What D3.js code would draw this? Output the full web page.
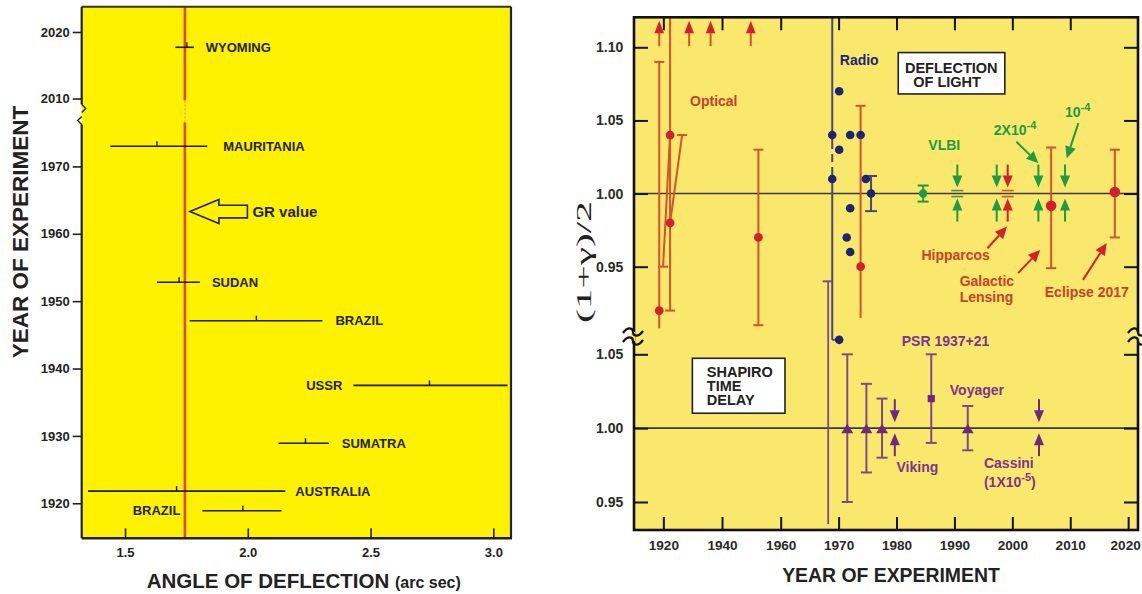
<!DOCTYPE html>
<html><head><meta charset="utf-8">
<script src="https://cdn.jsdelivr.net/npm/d3@7"></script>
<style>
body{margin:0;background:#fff;}
svg{display:block;font-family:"Liberation Sans",Arial,sans-serif;font-weight:bold;}
</style></head><body>
<svg id="c" width="1142" height="594"></svg>
<script>
// ================= LEFT PANEL DATA =================
const leftNames  = ["BRAZIL","AUSTRALIA","SUMATRA","USSR","BRAZIL","SUDAN","MAURITANIA","WYOMING"];
const leftYears  = [1918.9,1921.8,1928.9,1937.5,1947.1,1952.8,1973.0,2017.7];
const leftAngle  = [1.98,1.71,2.235,2.74,2.035,1.72,1.63,1.752];
const leftLow    = [1.815,1.349,2.125,2.43,1.763,1.63,1.44,1.705];
const leftHigh   = [2.137,2.153,2.33,3.058,2.304,1.805,1.835,1.78];
const leftLabelSide = ["left","right","right","left","right","right","right","right"];
const grValue = 1.75;
const grLabelYear = 1963.3;
const leftYTicks = [1920,1930,1940,1950,1960,1970,2010,2020];
const leftXTicks = [1.5,2.0,2.5,3.0];
const leftYDomain = [1914.8,1978.3,2008.2,2023.8];   // broken axis 1978-2008
const leftXDomain = [1.3235,3.072];

// ================= RIGHT PANEL DATA =================
const rightXDomain = [1910,1960,2021.7];             // two different year spacings
const rightXTicksBottom = [1920,1940,1960,1970,1980,1990,2000,2010,2020];
const rightXTicksTop = [1920,1940,1960,1970,1980,1990,2000,2010];
const deflYTicks = [0.95,1.00,1.05,1.10];
const shapYTicks = [0.95,1.00,1.05];
const deflDomain = [0.95,1.10];
const shapDomain = [0.95,1.05];

// Optical (deflection)
const opticalYears  = [1918.6,1922.3,1922.3,1952.4,1973.8];
const opticalValues = [0.92,1.04,0.98,0.97,0.95];
const opticalLimitYears = [1918.6,1928.8,1936.1,1949.8];
// error segments: [yearFrom, valueFrom, yearTo, valueTo, capFrom, capTo]
const opticalBars = [
  [1918.6,1.09,1918.6,0.908,1,0],
  [1922.3,1.121,1922.3,0.92,0,1],
  [1919.9,0.95,1922.3,1.04,1,0],
  [1926.4,1.04,1922.3,0.98,1,0],
  [1952.4,1.03,1952.4,0.91,1,1],
  [1973.8,1.06,1973.8,0.915,1,0]
];
const modernYears  = [2006.7,2017.7];
const modernValues = [0.9916,1.001];
const modernLow    = [0.949,0.97];
const modernHigh   = [1.0315,1.03];

// Radio
const radioYears  = [1970.1,1968.9,1972.0,1973.8,1970.1,1968.9,1974.7,1975.6,1972.0,1971.4,1972.0,1970.1];
const radioValues = [1.07,1.04,1.04,1.04,1.03,1.01,1.01,1.00,0.99,0.97,0.96,0.90];
const radioBar = [1975.6,0.988,1.012];
const radioLineYear = 1968.9;

// VLBI & high precision
const vlbiYear = 1984.6, vlbiValue = 1.00, vlbiErr = 0.0055;
const deflPairYears = [1990.5,1997.3,1999.2,2004.5,2009.1];
const deflPairKinds = ["greenBars","green","redBars","green","green"];

// Shapiro time delay
const shapYears  = [1971.5,1974.8,1977.5,1992.3];
const shapValues = [1.00,1.00,1.00,1.00];
const shapErr    = [0.05,0.03,0.02,0.015];
const psr = [1986.0,1.02,0.99,1.05];
const shapPairYears = [1979.7,2004.6];
const shapLongBar = [1968.2,0.94,0.935];  // year, top (deflection scale), bottom (shapiro scale)

// Labels  [text, year, value, color]
const deflLabels = [
  ["Radio",1970.2,1.0879,"navy"],
  ["Optical",1929.1,1.0599,"redL"],
  ["VLBI",1985.5,1.030,"green"],
  ["Hipparcos",1984.3,0.9546,"redL"],
  ["Galactic",1990.9,0.9368,"redL"],
  ["Lensing",1990.9,0.9261,"redL"],
  ["Eclipse 2017",2005.6,0.9295,"redL"]
];
const deflSupLabels = [["2X10","-4",1996.8,1.040,"green"],["10","-4",2009.1,1.0526,"green"]];
const shapLabels = [
  ["PSR 1937+21",1980.9,1.0556],
  ["Voyager",1989.2,1.0224],
  ["Viking",1980.0,0.9705],
  ["Cassini",1995.1,0.9728]
];
const shapSupLabels = [["(1X10","-5",")",1995.1,0.9604]];
// pointer arrows [yearFrom, valueFrom, yearTo, valueTo, color]
const deflPointers = [
  [2000.7,1.0355,2004.5,1.0207,"green"],
  [2011.4,1.0482,2009.4,1.0241,"green"],
  [1995.7,0.9626,1999.1,0.9774,"red"],
  [2001.0,0.9456,2004.8,0.9615,"red"],
  [2012.2,0.9410,2016.3,0.9662,"red"]
];
const deflBox = [1980.3,1998.7,1.0964,1.0681,["DEFLECTION","OF LIGHT"]];
const shapBox = [1929.9,1960.74,1.0473,1.0101,["SHAPIRO","TIME","DELAY"]];

// ================= STYLES =================
const C = {
  leftBg:"#fff200", rightBg:"#f9e86c", gr:"#e2461c",
  redLine:"#d4532c", red:"#d41f2f", redL:"#c9412b",
  navy:"#1c2478", navyLine:"#45477f", green:"#1f9a45", greenBar:"#5c8a5c",
  purple:"#6b2a80", purpleLine:"#7d4a8a", purpleL:"#7b3590", ink:"#1a1a1a"
};
const svg = d3.select("#c");

// ================= LEFT PANEL =================
const LP = {x0:81.7,x1:511,y0:6.7,y1:538.3,brk:110.5};
const xL = d3.scaleLinear().domain(leftXDomain).range([LP.x0,LP.x1]);
const yL = d3.scaleLinear().domain(leftYDomain).range([LP.y1,LP.brk,LP.brk,LP.y0]);
const gL = svg.append("g");
gL.append("rect").attr("x",LP.x0).attr("y",LP.y0).attr("width",LP.x1-LP.x0).attr("height",LP.y1-LP.y0).attr("fill",C.leftBg);

const gxv = xL(grValue) - 1.5;
gL.append("line").attr("x1",gxv).attr("x2",gxv).attr("y1",LP.y0).attr("y2",LP.brk-10).attr("stroke",C.gr).attr("stroke-width",2.6);
gL.append("line").attr("x1",gxv).attr("x2",gxv).attr("y1",LP.brk-10).attr("y2",LP.brk+12).attr("stroke","#f3b060").attr("stroke-width",2).attr("stroke-dasharray","2,2");
gL.append("line").attr("x1",gxv).attr("x2",gxv).attr("y1",LP.brk+12).attr("y2",LP.y1).attr("stroke",C.gr).attr("stroke-width",2.6);

const leftGap = [22,10,13,11,13,12,16,12];
leftNames.forEach((n,i)=>{
  const y = yL(leftYears[i]);
  gL.append("line").attr("x1",xL(leftLow[i])).attr("x2",xL(leftHigh[i])).attr("y1",y).attr("y2",y).attr("stroke",C.ink).attr("stroke-width",1.6);
  gL.append("line").attr("x1",xL(leftAngle[i])).attr("x2",xL(leftAngle[i])).attr("y1",y).attr("y2",y-5).attr("stroke",C.ink).attr("stroke-width",1.4);
  const right = leftLabelSide[i]==="right";
  gL.append("text").attr("x", right ? xL(leftHigh[i])+leftGap[i] : xL(leftLow[i])-leftGap[i])
    .attr("y",y+4.6).attr("text-anchor", right?"start":"end").attr("font-size",13).attr("fill","#222").text(n);
});

// GR value arrow
(function(){
  const tx = gxv+5, ty = yL(grLabelYear);
  const p = [[0,0],[29,-12],[29,-6.3],[57.5,-6.3],[57.5,6.3],[29,6.3],[29,12]].map(d=>[tx+d[0],ty+d[1]]);
  gL.append("path").attr("d","M"+p.join("L")+"Z").attr("fill","none").attr("stroke","#222").attr("stroke-width",1.6);
  gL.append("text").attr("x",tx+62.5).attr("y",ty+5.5).attr("font-size",15).attr("fill","#222").text("GR value");
})();

// frame
gL.append("line").attr("x1",LP.x0).attr("x2",LP.x1).attr("y1",LP.y0).attr("y2",LP.y0).attr("stroke","#333").attr("stroke-width",2);
gL.append("line").attr("x1",LP.x1).attr("x2",LP.x1).attr("y1",LP.y0).attr("y2",LP.y1).attr("stroke","#222").attr("stroke-width",2.2);
gL.append("line").attr("x1",LP.x0).attr("x2",LP.x1+1).attr("y1",LP.y1).attr("y2",LP.y1).attr("stroke","#222").attr("stroke-width",2.5);
gL.append("line").attr("x1",LP.x0).attr("x2",LP.x0).attr("y1",LP.y0).attr("y2",LP.brk-6).attr("stroke","#222").attr("stroke-width",2.2);
gL.append("line").attr("x1",LP.x0).attr("x2",LP.x0).attr("y1",LP.brk+14).attr("y2",LP.y1).attr("stroke","#222").attr("stroke-width",2.2);
gL.append("path").attr("d",`M${LP.x0},${LP.brk-6} l4,4 l-4,4`).attr("fill","none").attr("stroke","#222").attr("stroke-width",1.4);
gL.append("path").attr("d",`M${LP.x0},${LP.brk+6} l-4,4 l4,4`).attr("fill","none").attr("stroke","#222").attr("stroke-width",1.4);

// axes
const axL = gL.append("g").attr("transform",`translate(${LP.x0},0)`)
  .call(d3.axisLeft(yL).tickValues(leftYTicks).tickSize(9).tickPadding(3).tickFormat(d3.format("d")));
const axLB = gL.append("g").attr("transform",`translate(0,${LP.y1})`)
  .call(d3.axisBottom(xL).tickValues(leftXTicks).tickSize(-10).tickPadding(9).tickFormat(d3.format(".1f")));
[axL,axLB].forEach(a=>{
  a.select(".domain").remove();
  a.selectAll("line").attr("stroke","#222").attr("stroke-width",1.6);
  a.selectAll("text").attr("font-size",13).attr("font-weight","bold").attr("fill","#222").attr("font-family","Liberation Sans, Arial, sans-serif");
});
gL.append("text").attr("transform","translate(28,232) rotate(-90)").attr("text-anchor","middle").attr("font-size",22.5).attr("fill","#222").text("YEAR OF EXPERIMENT");
const xt = gL.append("text").attr("x",146.7).attr("y",588).attr("fill","#222");
xt.append("tspan").attr("font-size",20.5).text("ANGLE OF DEFLECTION ");
xt.append("tspan").attr("font-size",16).text("(arc sec)");

// ================= RIGHT PANEL =================
const RP = {x0:634,x1:1138,y0:17.3,y1:530,brk:336};
const xR = d3.scaleLinear().domain(rightXDomain).range([RP.x0,780.7,RP.x1]);
const yT = d3.scaleLinear().domain(deflDomain).range([266.7,47.3]);
const yB = d3.scaleLinear().domain(shapDomain).range([502,354.3]);
const gR = svg.append("g");
gR.append("rect").attr("x",RP.x0).attr("y",RP.y0).attr("width",RP.x1-RP.x0).attr("height",RP.y1-RP.y0).attr("fill",C.rightBg);

// reference lines at 1.00
[yT(1),yB(1)].forEach(y=>gR.append("line").attr("x1",RP.x0).attr("x2",RP.x1).attr("y1",y).attr("y2",y).attr("stroke","#3a3a3a").attr("stroke-width",1.6));

function seg(g,x1,y1,x2,y2,col,w){g.append("line").attr("x1",x1).attr("y1",y1).attr("x2",x2).attr("y2",y2).attr("stroke",col).attr("stroke-width",w||2);}
function cap(g,x,y,col,hw){seg(g,x-(hw||5),y,x+(hw||5),y,col,2);}
function errV(g,x,yLo,yHi,col,hw){seg(g,x,yLo,x,yHi,col,2);cap(g,x,yLo,col,hw);cap(g,x,yHi,col,hw);}

// Shapiro long bar crossing the break
(function(){
  const x = xR(shapLongBar[0]);
  seg(gR,x,yT(shapLongBar[1]),x,yB(shapLongBar[2]),C.purpleLine,1.8);
  cap(gR,x-1,yT(shapLongBar[1]),C.purpleLine,4.5);
})();

// Radio long line
(function(){
  const x = xR(radioLineYear);
  seg(gR,x,RP.y0,x,yT(1.036),C.navyLine,2);
  gR.append("line").attr("x1",x).attr("x2",x).attr("y1",yT(1.036)).attr("y2",yT(1.012)).attr("stroke",C.navyLine).attr("stroke-width",2).attr("stroke-dasharray","8,5");
  seg(gR,x,yT(1.012),x,yT(0.90),C.navyLine,2);
  seg(gR,x,yT(0.90),xR(radioYears[11])-3,yT(0.90),C.navyLine,1.8);
})();

// optical bars
opticalBars.forEach(b=>{
  const x1=xR(b[0]),y1=yT(b[1]),x2=xR(b[2]),y2=yT(b[3]);
  seg(gR,x1,Math.max(y1,RP.y0),x2,y2,C.redLine,2);
  if(b[4]) cap(gR,x1,y1,C.redLine,5);
  if(b[5]) cap(gR,x2,y2,C.redLine,5);
});
// optical limit arrows at top
opticalLimitYears.forEach(yr=>{
  const x=xR(yr), t=RP.y0+3.4;
  seg(gR,x,t+12,x,t+25.5,C.redLine,2);
  gR.append("path").attr("d",`M${x},${t}L${x+4.8},${t+12.5}L${x-4.8},${t+12.5}Z`).attr("fill",C.red);
});
// modern optical bars
modernYears.forEach((yr,i)=>errV(gR,xR(yr),yT(modernLow[i]),yT(modernHigh[i]),C.redLine,5));
// radio errorbar
errV(gR,xR(radioBar[0]),yT(radioBar[1]),yT(radioBar[2]),C.navyLine,6);
// VLBI
errV(gR,xR(vlbiYear),yT(vlbiValue-vlbiErr),yT(vlbiValue+vlbiErr),C.green,5.5);

// Shapiro bars
shapYears.forEach((yr,i)=>errV(gR,xR(yr),yB(shapValues[i]-shapErr[i]),yB(shapValues[i]+shapErr[i]),C.purpleLine,5.5));
errV(gR,xR(psr[0]),yB(psr[2]),yB(psr[3]),C.purpleLine,5.5);

// dots
opticalYears.forEach((yr,i)=>gR.append("circle").attr("cx",xR(yr)).attr("cy",yT(opticalValues[i])).attr("r",4.4).attr("fill",C.red));
modernYears.forEach((yr,i)=>gR.append("circle").attr("cx",xR(yr)).attr("cy",yT(modernValues[i])).attr("r",5.3).attr("fill",C.red));
radioYears.forEach((yr,i)=>gR.append("circle").attr("cx",xR(yr)).attr("cy",yT(radioValues[i])).attr("r",4.3).attr("fill",C.navy));
gR.append("circle").attr("cx",xR(vlbiYear)).attr("cy",yT(vlbiValue)).attr("r",4.2).attr("fill",C.green);

shapYears.forEach((yr,i)=>{
  const x=xR(yr),y=yB(shapValues[i]);
  gR.append("path").attr("d",`M${x},${y-4.5}L${x+6},${y+5}L${x-6},${y+5}Z`).attr("fill",C.purple);
});
gR.append("rect").attr("x",xR(psr[0])-3.6).attr("y",yB(psr[1])-3.6).attr("width",7.2).attr("height",7.2).attr("fill",C.purple);

// arrow pairs
function arrowPair(g,x,yc,col,bars,barCol){
  seg(g,x,yc-29,x,yc-17,col,2);
  g.append("path").attr("d",`M${x-5},${yc-18}L${x+5},${yc-18}L${x},${yc-6}Z`).attr("fill",col);
  g.append("path").attr("d",`M${x-5},${yc+17}L${x+5},${yc+17}L${x},${yc+5}Z`).attr("fill",col);
  seg(g,x,yc+16,x,yc+28,col,2);
  if(bars){ seg(g,x-6,yc-3,x+6,yc-3,barCol,1.6); seg(g,x-6,yc+3,x+6,yc+3,barCol,1.6); }
}
deflPairYears.forEach((yr,i)=>{
  const k=deflPairKinds[i];
  const col = k.startsWith("red")?C.red:C.green;
  const bc = k.startsWith("red")?C.redLine:C.greenBar;
  arrowPair(gR,xR(yr),yT(1),col,k.endsWith("Bars"),bc);
});
shapPairYears.forEach(yr=>arrowPair(gR,xR(yr),yB(1),C.purple,false));

// pointers
function pointer(g,x1,y1,x2,y2,col){
  const a=Math.atan2(y2-y1,x2-x1), L=12, W=5.5;
  const bx=x2-L*Math.cos(a), by=y2-L*Math.sin(a);
  seg(g,x1,y1,bx,by,col,2);
  const px=-Math.sin(a)*W, py=Math.cos(a)*W;
  g.append("path").attr("d",`M${x2},${y2}L${bx+px},${by+py}L${bx-px},${by-py}Z`).attr("fill",col);
}
deflPointers.forEach(p=>pointer(gR,xR(p[0]),yT(p[1]),xR(p[2]),yT(p[3]),p[4]==="red"?C.red:C.green));

// labels
const lblCol = {navy:C.navy,redL:C.redL,green:C.green};
deflLabels.forEach(l=>gR.append("text").attr("x",xR(l[1])).attr("y",yT(l[2])).attr("font-size",14).attr("fill",lblCol[l[3]]).text(l[0]));
deflSupLabels.forEach(l=>{
  const t=gR.append("text").attr("x",xR(l[2])).attr("y",yT(l[3])).attr("font-size",14).attr("fill",lblCol[l[4]]);
  t.append("tspan").text(l[0]);
  t.append("tspan").attr("dy",-6).attr("font-size",11).text(l[1]);
});
shapLabels.forEach(l=>gR.append("text").attr("x",xR(l[1])).attr("y",yB(l[2])).attr("font-size",14).attr("fill",C.purpleL).text(l[0]));
shapSupLabels.forEach(l=>{
  const t=gR.append("text").attr("x",xR(l[3])).attr("y",yB(l[4])).attr("font-size",14).attr("fill",C.purpleL);
  t.append("tspan").text(l[0]);
  t.append("tspan").attr("dy",-6).attr("font-size",11).text(l[1]);
  t.append("tspan").attr("dy",6).text(l[2]);
});

// boxes
function box(g,b,ys,offs){
  const x0=xR(b[0]),x1=xR(b[1]),y0=ys(b[2]),y1=ys(b[3]);
  g.append("rect").attr("x",x0).attr("y",y0).attr("width",x1-x0).attr("height",y1-y0).attr("fill","#fff").attr("stroke","#222").attr("stroke-width",1.6);
  b[4].forEach((s,i)=>g.append("text").attr("x",x0+offs[i][0]).attr("y",y0+offs[i][1]).attr("font-size",14.5).attr("fill","#222").text(s));
}
box(gR,deflBox,yT,[[6.7,20.3],[15,34.3]]);
box(gR,shapBox,yB,[[14.4,18.4],[14.4,32.4],[14.4,46.7]]);

// frame
gR.append("rect").attr("x",RP.x0).attr("y",RP.y0).attr("width",RP.x1-RP.x0).attr("height",RP.y1-RP.y0).attr("fill","none").attr("stroke","#111").attr("stroke-width",2.6);

// axes
function styleAx(a,fs){
  a.select(".domain").remove();
  a.selectAll("line").attr("stroke","#111").attr("stroke-width",2);
  a.selectAll("text").attr("font-size",fs).attr("font-weight","bold").attr("fill","#2a2a2a").attr("font-family","Liberation Sans, Arial, sans-serif");
}
const axRB = gR.append("g").attr("transform",`translate(0,${RP.y1})`).call(d3.axisBottom(xR).tickValues(rightXTicksBottom).tickSize(-13).tickPadding(10).tickFormat(d3.format("d")));
styleAx(axRB,13.6);
axRB.selectAll(".tick text").filter(d=>d===2020).attr("dx",-3);
styleAx(gR.append("g").attr("transform",`translate(0,${RP.y0})`).call(d3.axisTop(xR).tickValues(rightXTicksTop).tickSize(-13).tickFormat("")),14);
styleAx(gR.append("g").attr("transform",`translate(${RP.x0},0)`).call(d3.axisLeft(yT).tickValues(deflYTicks).tickSize(-14).tickPadding(10.7).tickFormat(d3.format(".2f"))),14);
styleAx(gR.append("g").attr("transform",`translate(${RP.x0},0)`).call(d3.axisLeft(yB).tickValues(shapYTicks).tickSize(-14).tickPadding(10.7).tickFormat(d3.format(".2f"))),14);
styleAx(gR.append("g").attr("transform",`translate(${RP.x1},0)`).call(d3.axisRight(yT).tickValues(deflYTicks).tickSize(-14).tickFormat("")),14);
styleAx(gR.append("g").attr("transform",`translate(${RP.x1},0)`).call(d3.axisRight(yB).tickValues(shapYTicks).tickSize(-14).tickFormat("")),14);

// break marks
function brk(g,x,y){
  g.append("rect").attr("x",x-2).attr("y",y-4).attr("width",4).attr("height",9).attr("fill",C.rightBg);
  [y-4,y+5].forEach(yy=>g.append("path").attr("d",`M${x-10},${yy+1} C${x-5},${yy-6} ${x},${yy-4} ${x},${yy} S${x+5},${yy+6} ${x+10},${yy-1}`)
    .attr("fill","none").attr("stroke","#111").attr("stroke-width",2.2));
}
brk(gR,RP.x0-1,RP.brk);
brk(gR,RP.x1,RP.brk);

// titles
gR.append("text").attr("x",891).attr("y",581.7).attr("text-anchor","middle").attr("font-size",19.4).attr("fill","#222").text("YEAR OF EXPERIMENT");
gR.append("text").attr("transform","translate(591,262) rotate(-90)").attr("text-anchor","middle")
  .attr("font-family","Liberation Serif, Times New Roman, serif").attr("font-weight","normal").attr("font-size",22)
  .attr("textLength",122).attr("lengthAdjust","spacingAndGlyphs").attr("fill","#222").text("(1+γ)/2");
</script>
</body></html>
